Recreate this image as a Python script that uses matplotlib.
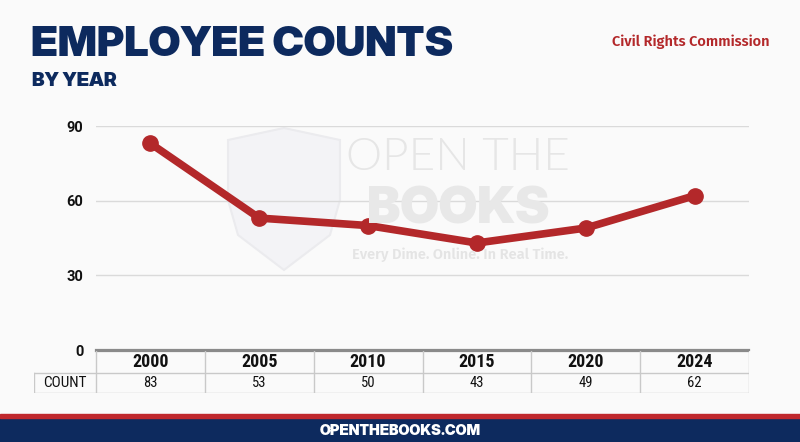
import matplotlib
matplotlib.use("Agg")
import matplotlib.pyplot as plt
from matplotlib.patches import Rectangle, Polygon

years = ["2000", "2005", "2010", "2015", "2020", "2024"]
counts = [83, 53, 50, 43, 49, 62]
yticks = [0, 30, 60, 90]
row_label = "COUNT"
title = "EMPLOYEE COUNTS"
subtitle = "BY YEAR"
agency = "Civil Rights Commission"
footer = "OPENTHEBOOKS.COM"

W, H = 800, 442
NAVY = "#0d2a5e"
RED = "#b3282a"
HEAVY = "Inter Display"
COND = "Roboto Condensed"

fig = plt.figure(figsize=(W / 100, H / 100), dpi=100)
fig.patch.set_facecolor("#fafafa")

def fx(px):
    return px / W

def fy(py):
    return 1 - py / H

# watermark shield (faint)
shield = [(228, 140), (284, 128), (340, 140), (340, 200), (330, 235), (284, 270),
          (238, 235), (228, 200)]
fig.add_artist(Polygon([(fx(a), fy(b)) for a, b in shield], closed=True,
                       transform=fig.transFigure, facecolor="#f3f3f6",
                       edgecolor="#ebebee", lw=1.5, zorder=0))
fig.text(fx(458), fy(158), "OPEN THE", ha="center", va="center", fontsize=33,
         family="Lato", weight=300, color="#e6e6e6", zorder=0)
fig.text(fx(458), fy(210), "BOOKS", ha="center", va="center", fontsize=37,
         family=HEAVY, weight=900, color="#e8e8e8", zorder=0)
fig.text(fx(460), fy(255), "Every Dime. Online. In Real Time.", ha="center", va="center",
         fontsize=10.5, family="Fira Sans", weight=600, color="#e4e4e4", zorder=0)

# main axes
x0, x1 = 96, 749
y_top, y_bot = 126, 350
ax = fig.add_axes([fx(x0), 1 - y_bot / H, (x1 - x0) / W, (y_bot - y_top) / H])
ax.patch.set_alpha(0)
xs = list(range(len(years)))
ax.set_xlim(-0.5, len(years) - 0.5)
ax.set_ylim(0, 90)
for t in yticks[1:]:
    ax.axhline(t, color="#dadada", lw=1, zorder=1)
ax.axhline(0, color="#8a8a8a", lw=1.6, zorder=1, clip_on=False)
ax.plot(xs, counts, color=RED, lw=5.5, marker="o", markersize=11,
        solid_capstyle="round", zorder=3, clip_on=False)
ax.set_yticks(yticks)
ax.set_yticklabels([str(t) for t in yticks], fontsize=10.5, weight="bold",
                   family="Roboto", color="#111111")
ax.tick_params(axis="y", length=0, pad=9)
ax.set_xticks([])
for s in ax.spines.values():
    s.set_visible(False)

# table
col_w = (x1 - x0) / len(years)
lab_left = 34
tab = fig.add_axes([fx(lab_left), 1 - 393 / H, (x1 - lab_left) / W, (393 - 351) / H])
tab.patch.set_alpha(0)
lab_units = (x0 - lab_left) / col_w
tab.set_xlim(-0.5 - lab_units, len(years) - 0.5)
tab.set_ylim(0, 42)
tab.axis("off")
grid_c = "#c9c9c9"
row_split = 20
tab.plot([-0.5, len(years) - 0.5], [42, 42], color="#8a8a8a", lw=1.6)
tab.plot([-0.5 - lab_units, len(years) - 0.5], [row_split, row_split], color=grid_c, lw=1)
tab.plot([-0.5 - lab_units, len(years) - 0.5], [0, 0], color=grid_c, lw=1)
tab.plot([-0.5 - lab_units] * 2, [0, row_split], color=grid_c, lw=1)
for i in range(len(years) + 1):
    tab.plot([i - 0.5] * 2, [0, 42], color=grid_c, lw=1)
for i, (yr, c) in enumerate(zip(years, counts)):
    tab.text(i, 31, yr, ha="center", va="center", fontsize=13, weight="bold",
             family=COND, color="#111111")
    tab.text(i, 10, str(c), ha="center", va="center", fontsize=10.5,
             family=COND, color="#111111")
tab.text(-0.5 - lab_units / 2, 10, row_label, ha="center", va="center", fontsize=11,
         family=COND, color="#111111")

# titles
fig.text(fx(31), fy(46), title, ha="left", va="center", fontsize=30.5,
         family=HEAVY, weight=900, color=NAVY)
fig.text(fx(32), fy(81), subtitle, ha="left", va="center", fontsize=14,
         family=HEAVY, weight=900, color=NAVY)
fig.text(fx(770), fy(42), agency, ha="right", va="center", fontsize=10.5,
         family="Fira Sans", weight=600, color=RED)

# footer
fig.add_artist(Rectangle((0, 0), 1, 24 / H, transform=fig.transFigure,
                         color=NAVY, zorder=5))
fig.add_artist(Rectangle((0, 24 / H), 1, 4 / H, transform=fig.transFigure,
                         color="#c0282d", zorder=5))
fig.text(0.5, fy(431), footer, ha="center", va="center", fontsize=10.5,
         family=HEAVY, weight=900, color="white", zorder=6)

fig.savefig("out.png", dpi=100, facecolor=fig.get_facecolor())
